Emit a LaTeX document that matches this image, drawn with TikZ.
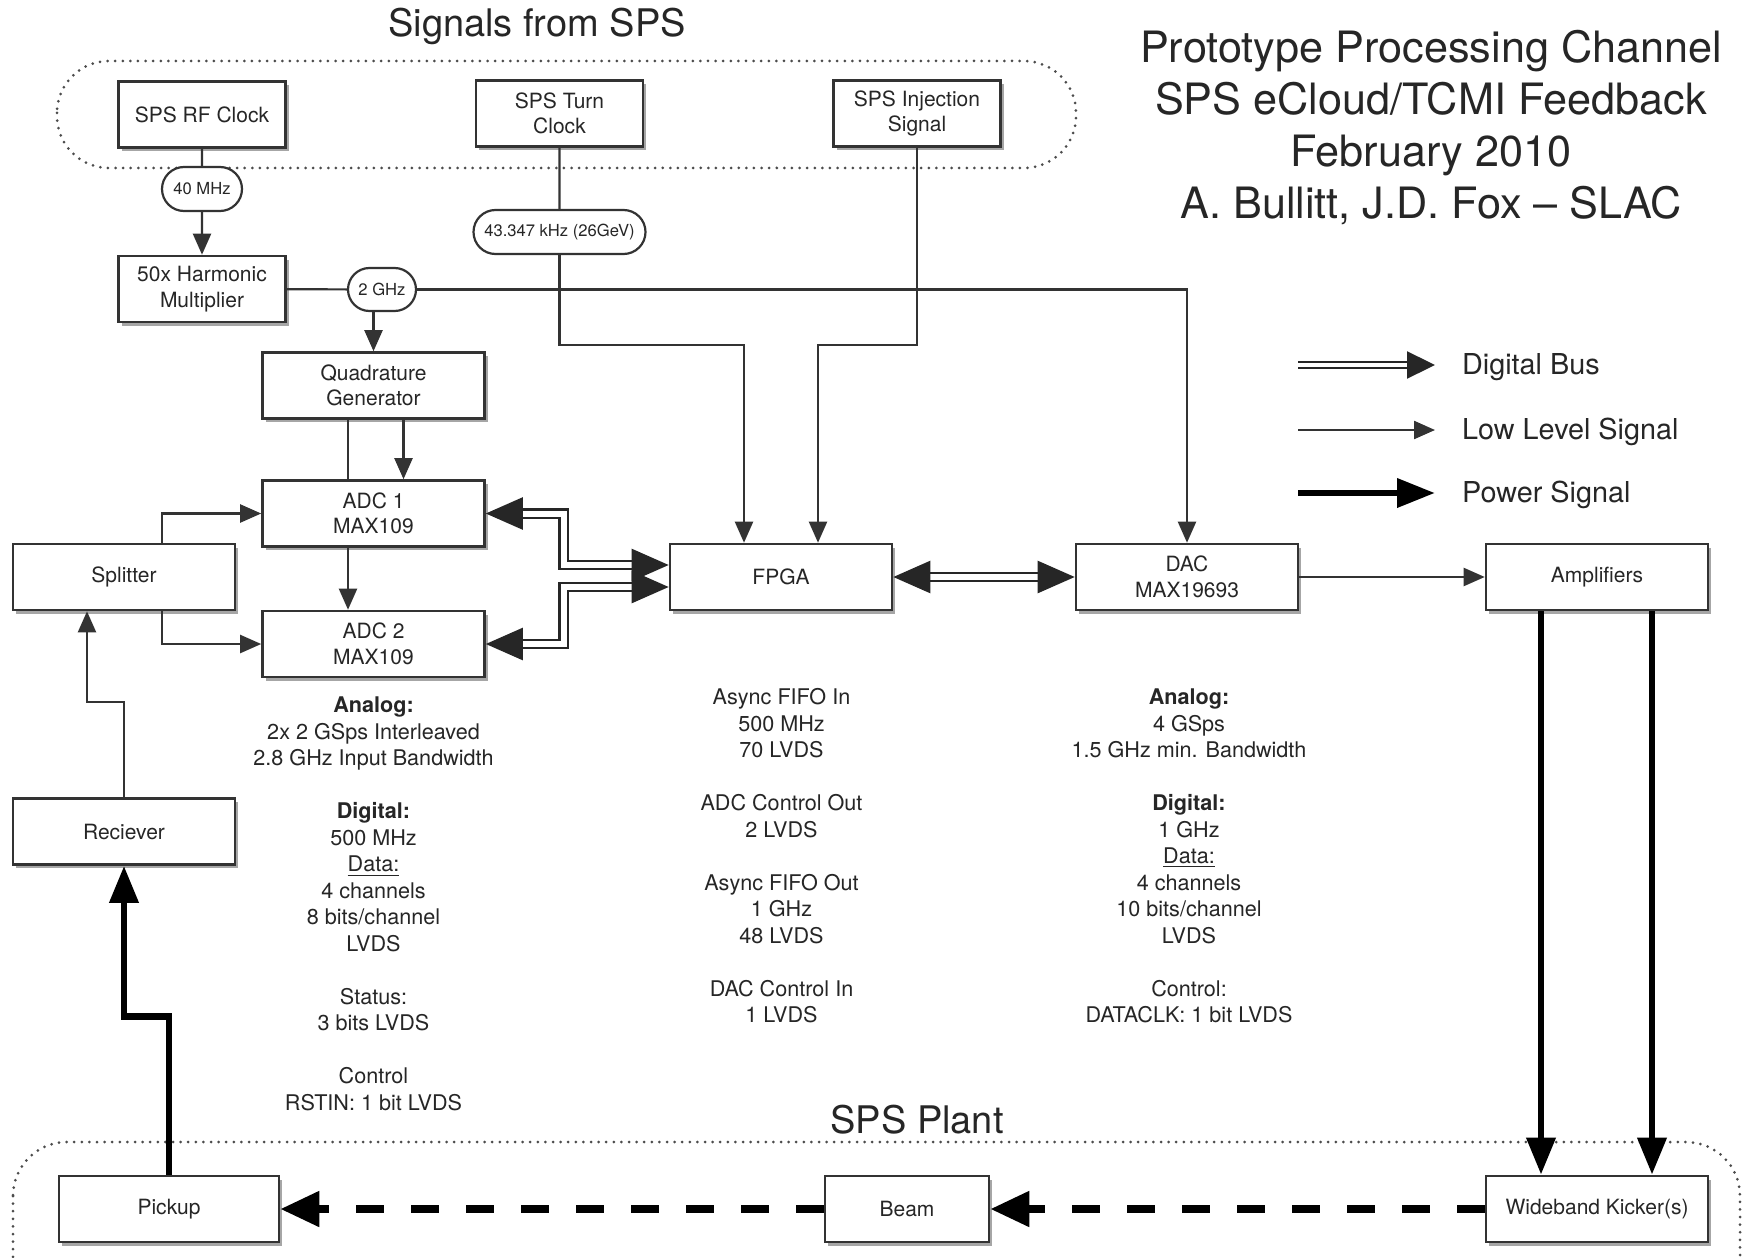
\documentclass[tikz,border=0pt]{standalone}
\usepackage{fontspec}
\setmainfont{TeX Gyre Heros}
\usetikzlibrary{arrows.meta,shapes.misc,shadows,calc}
\begin{document}
\begin{tikzpicture}[x=0.5pt,y=-0.5pt,
  every node/.style={text=black!85},
  blk/.style={draw=black!80, line width=1.3pt, fill=white, align=center, inner sep=1pt,
     minimum height=33pt, minimum width=111pt,
     font=\fontsize{10.5}{12.8}\selectfont,
     drop shadow={shadow xshift=1.6pt, shadow yshift=-1.8pt, opacity=0.35, fill=black}},
  blks/.style={blk, minimum width=83.5pt},
  pill/.style={rounded rectangle, draw=black!80, line width=1.1pt, fill=white,
     inner xsep=3pt, inner ysep=1pt, minimum height=21.5pt,
     font=\fontsize{8.3}{10}\selectfont},
  ln/.style={draw=black!80, line width=1.1pt},
  sig/.style={ln, -{Triangle[length=10.5pt,width=9pt]}},
  bus/.style={draw=black!85, line width=1.2pt, double=white, double distance=3pt,
     {Triangle[length=18.5pt,width=16pt]}-{Triangle[length=18.5pt,width=16pt]}},
  busleg/.style={draw=black!85, line width=1.1pt, double=white, double distance=2.2pt,
     -{Triangle[length=14pt,width=13.5pt]}},
  pwr/.style={draw=black, line width=3.4pt, -{Triangle[length=18.5pt,width=14pt]}},
  pwrleg/.style={draw=black, line width=3.4pt, -{Triangle[length=19pt,width=14pt]}},
  dsh/.style={draw=black, line width=4pt, dash pattern=on 14pt off 13.5pt,
     -{Triangle[length=19.5pt,width=17pt]}},
  note/.style={align=center, font=\fontsize{10.8}{13.25}\selectfont},
  dots/.style={draw=black!70, line width=1.5pt, line cap=round, dash pattern=on 0pt off 3.8pt},
  legtext/.style={anchor=west, font=\fontsize{14.4}{16}\selectfont},
  head/.style={font=\fontsize{19}{22}\selectfont}
]
\useasboundingbox (0,0) rectangle (1743,1257);
\fill[white] (0,0) rectangle (1743,1257);

% group frames
\draw[dots, rounded corners=26pt] (57,61) rectangle (1076,168);
\draw[dots, rounded corners=27pt] (13,1142) rectangle (1740,1320);
\node[head, anchor=base] (sigsps) at (537,37) {Signals from SPS};
\node[head, anchor=base] (plant) at (917,1133) {SPS Plant};

% title
\node[align=center, font=\fontsize{21.6}{26}\selectfont] (title) at (1431,128)
  {Prototype Processing Channel\\SPS eCloud/TCMI Feedback\\February 2010\\A. Bullitt, J.D. Fox -- SLAC};

% boxes
\node[blks] (rf) at (202,114.5) {SPS RF Clock};
\node[blks] (turn) at (559.5,113.5) {SPS Turn\\Clock};
\node[blks] (inj) at (917,113.5) {SPS Injection\\Signal};
\node[blks] (harm) at (202,289) {50x Harmonic\\Multiplier};
\node[blk] (quad) at (373.5,385.5) {Quadrature\\Generator};
\node[blk] (adc1) at (373.5,513.5) {ADC 1\\MAX109};
\node[blk] (adc2) at (373.5,644) {ADC 2\\MAX109};
\node[blk] (split) at (124,577) {Splitter};
\node[blk] (recv) at (124,831.5) {Reciever};
\node[blk] (fpga) at (781,577) {FPGA};
\node[blk] (dac) at (1187,577) {DAC\\MAX19693};
\node[blk] (amp) at (1597,577) {Amplifiers};
\node[blk, minimum width=110pt] (pick) at (169,1209) {Pickup};
\node[blk, minimum width=82pt] (beam) at (907,1209) {Beam};
\node[blk] (kick) at (1597,1209) {Wideband Kicker(s)};

% pills
\node[pill, minimum width=46pt, minimum height=22pt] (p40) at (202,189) {40 MHz};
\node[pill, minimum width=40pt] (p2g) at (382,289.5) {2 GHz};
\node[pill, minimum width=92pt, minimum height=22pt] (p43) at (559.5,232) {43.347 kHz (26GeV)};

% clock chain
\draw[ln] (rf) -- (p40);
\draw[sig] (p40) -- (harm);
\draw[ln] (harm) -- (p2g);
\draw[sig] (p2g.east) -| (dac.north);
\draw[sig] (p2g.south -| quad.north) -- (quad.north);
\draw[sig] ($(quad.south)+(30,0)$) -- ($(adc1.north)+(30,0)$);
\draw[ln] ($(quad.south)+(-25.5,0)$) -- ($(adc1.north)+(-25.5,0)$);
\draw[sig] ($(adc1.south)+(-25.5,0)$) -- ($(adc2.north)+(-25.5,0)$);

% SPS signals to FPGA
\coordinate (tj) at (559.5,345);
\coordinate (ij) at (917,345);
\draw[ln] (turn) -- (p43);
\draw[sig] (p43.south) -- (tj) -| ($(fpga.north)+(-37,0)$);
\draw[sig] (inj.south) -- (ij) -| ($(fpga.north)+(37,0)$);

% analog front end
\draw[sig] ($(split.north)+(38,0)$) |- (adc1.west);
\draw[sig] ($(split.south)+(38,0)$) |- (adc2.west);
\draw[sig] (recv.north) -- ++(0,-95) -| ($(split.south)+(-37,0)$);
\draw[pwr] (pick.north) -- ++(0,-158) -| (recv.south);

% digital buses
\draw[bus] (adc1.east) -- ++(78,0) |- ($(fpga.west)+(0,-12)$);
\draw[bus] (adc2.east) -- ++(78,0) |- ($(fpga.west)+(0,10)$);
\draw[bus] (fpga) -- (dac);

% output
\draw[sig] (dac) -- (amp);
\draw[pwr] ($(amp.south)+(-56,0)$) -- ($(kick.north)+(-56,0)$);
\draw[pwr] ($(amp.south)+(55,0)$) -- ($(kick.north)+(55,0)$);
\draw[dsh] (kick) -- (beam);
\draw[dsh] (beam) -- (pick);

% notes
\node[note] (adcnote) at (373.5,904) {\textbf{Analog:}\\2x 2 GSps Interleaved\\2.8 GHz Input Bandwidth\\[13.25pt]\textbf{Digital:}\\500 MHz\\\underline{Data:}\\4 channels\\8 bits/channel\\LVDS\\[13.25pt]Status:\\3 bits LVDS\\[13.25pt]Control\\RSTIN: 1 bit LVDS};
\node[note] (fpganote) at (781.5,856) {Async FIFO In\\500 MHz\\70 LVDS\\[13.25pt]ADC Control Out\\2 LVDS\\[13.25pt]Async FIFO Out\\1 GHz\\48 LVDS\\[13.25pt]DAC Control In\\1 LVDS};
\node[note] (dacnote) at (1189,856) {\textbf{Analog:}\\4 GSps\\1.5 GHz min. Bandwidth\\[13.25pt]\textbf{Digital:}\\1 GHz\\\underline{Data:}\\4 channels\\10 bits/channel\\LVDS\\[13.25pt]Control:\\DATACLK: 1 bit LVDS};

% legend
\coordinate (l1a) at (1298,365); \coordinate (l1b) at (1435,365);
\coordinate (l2a) at (1298,430); \coordinate (l2b) at (1435,430);
\coordinate (l3a) at (1298,493); \coordinate (l3b) at (1435,493);
\draw[busleg] (l1a) -- (l1b);
\draw[sig] (l2a) -- (l2b);
\draw[pwrleg] (l3a) -- (l3b);
\node[legtext] (lt1) at (1455,367) {Digital Bus};
\node[legtext] (lt2) at (1455,432) {Low Level Signal};
\node[legtext] (lt3) at (1455,495) {Power Signal};
\end{tikzpicture}
\end{document}
